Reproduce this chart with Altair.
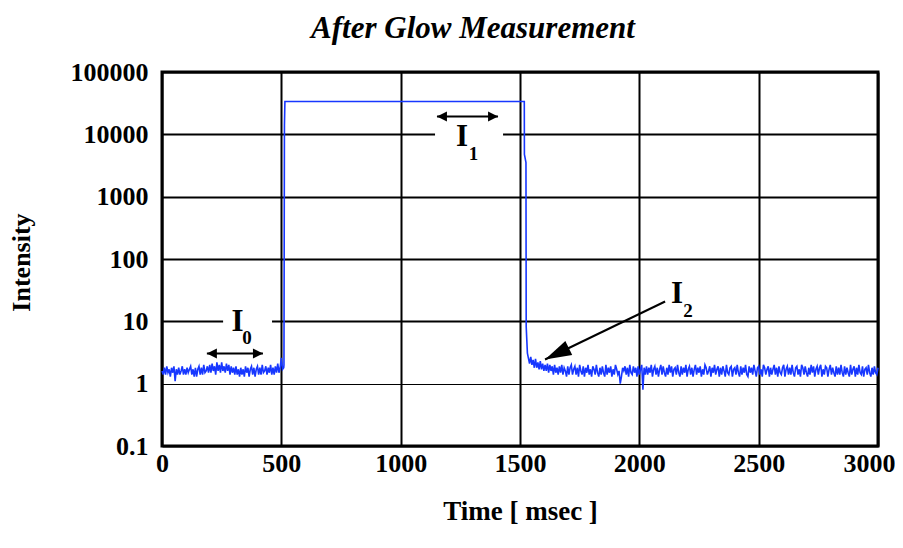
import altair as alt
import pandas as pd

# ---- data ----
# baseline before the pulse, sampled every 5 ms from 0 to 505 ms
pre_values = [
    1.6, 1.4, 1.8, 1.4, 1.9, 1.5, 1.7, 1.3, 1.8, 1.5, 1.9, 1.1, 1.7, 1.4, 1.8, 1.4, 1.6, 1.9, 1.4, 1.7,
    1.4, 1.8, 1.5, 1.7, 1.9, 1.4, 1.7, 1.3, 1.8, 1.3, 1.7, 1.9, 1.4, 1.8, 1.4, 2.0, 1.5, 1.6, 1.9, 1.5,
    2.0, 1.5, 2.1, 1.6, 1.9, 1.4, 2.2, 1.6, 2.0, 1.5, 2.2, 1.6, 1.9, 1.5, 2.1, 1.6, 2.0, 1.4, 1.9, 1.5,
    1.8, 1.4, 1.9, 1.4, 1.7, 1.3, 1.8, 1.4, 1.7, 1.3, 1.9, 1.5, 1.8, 1.3, 1.7, 1.9, 1.4, 1.8, 1.3, 1.7,
    1.9, 1.4, 1.8, 1.4, 2.0, 1.5, 1.6, 1.9, 1.4, 1.8, 1.5, 2.0, 1.4, 1.8, 1.4, 1.9, 1.5, 2.1, 1.5, 1.8,
    2.6, 1.7,
]
pre_times = list(range(0, 510, 5))

# the pulse edges and the plateau
edge_times = [510, 511, 513, 515, 1518, 1518.5, 1525, 1526, 1531]
edge_values = [1.8, 2.0, 14000, 33600, 33600, 4750, 3530, 8.2, 3.1]

# after glow, sampled every 5 ms from 1535 to 3000 ms
post_values = [
    2.6, 2.1, 2.7, 2.0, 2.4, 1.8, 2.5, 1.8, 2.2, 1.7, 2.3, 1.7, 2.1, 1.6, 2.0, 1.6, 2.1, 1.5, 2.0, 1.6,
    1.9, 1.4, 2.0, 1.5, 1.8, 1.4, 1.9, 1.5, 2.0, 1.4, 1.8, 1.6, 1.3, 1.9, 1.4, 1.8, 2.0, 1.4, 1.7, 1.9,
    1.4, 1.8, 1.3, 2.0, 1.6, 1.4, 1.9, 1.3, 1.8, 1.5, 2.0, 1.4, 1.7, 1.3, 1.9, 1.7, 1.4, 2.0, 1.5, 1.3,
    1.8, 1.4, 1.9, 1.5, 1.3, 2.0, 1.4, 1.8, 1.5, 1.9, 1.3, 1.7, 1.4, 2.0, 1.7, 1.4, 1.6, 1.0, 1.3, 1.8,
    1.6, 1.9, 1.4, 1.8, 1.3, 2.0, 1.5, 1.4, 1.9, 1.5, 1.8, 1.3, 1.9, 1.4, 1.7, 2.0, 0.8, 1.8, 1.4, 1.9,
    1.4, 1.8, 1.5, 2.0, 1.3, 1.7, 1.9, 1.4, 1.8, 1.3, 1.7, 2.0, 1.4, 1.9, 1.5, 1.3, 1.8, 1.4, 2.0, 1.5,
    1.9, 1.3, 1.7, 1.8, 1.4, 2.0, 1.5, 1.3, 1.9, 1.4, 1.8, 1.5, 2.0, 1.3, 1.7, 1.9, 1.4, 1.8, 1.3, 1.7,
    2.0, 1.4, 1.8, 1.5, 1.9, 1.3, 1.7, 1.4, 2.0, 1.8, 1.4, 1.6, 1.9, 1.3, 1.8, 1.5, 2.0, 1.4, 1.7, 1.9,
    1.3, 1.8, 1.4, 1.9, 1.6, 1.3, 2.0, 1.5, 1.4, 1.8, 1.9, 1.3, 1.7, 1.8, 1.4, 2.0, 1.5, 1.3, 1.9, 1.4,
    1.8, 1.5, 2.0, 1.4, 1.3, 1.9, 1.5, 1.8, 1.4, 2.0, 1.6, 1.3, 1.8, 1.9, 1.4, 1.7, 1.3, 2.0, 1.8, 1.4,
    1.7, 1.9, 1.3, 1.8, 1.4, 1.7, 2.0, 1.4, 1.8, 1.3, 1.9, 1.5, 1.4, 1.8, 2.0, 1.3, 1.7, 1.9, 1.4, 1.8,
    1.4, 2.0, 1.5, 1.3, 1.8, 1.9, 1.4, 1.7, 1.3, 2.0, 1.8, 1.4, 1.9, 1.5, 1.3, 1.8, 1.4, 2.0, 1.5, 1.9,
    1.3, 1.7, 1.9, 1.4, 1.8, 2.0, 1.3, 1.7, 1.4, 1.9, 1.8, 1.3, 1.7, 2.0, 1.4, 1.8, 1.5, 1.3, 1.9, 1.4,
    1.8, 1.4, 2.0, 1.5, 1.3, 1.9, 1.4, 1.8, 1.5, 1.3, 2.0, 1.4, 1.7, 1.9, 1.3, 1.8, 1.4, 2.0, 1.5, 1.4,
    1.9, 1.3, 1.7, 1.8, 1.4, 2.0, 1.5, 1.3, 1.8, 1.4, 1.9, 1.5, 1.4, 1.8,
]
post_times = list(range(1535, 3001, 5))

x_ticks = [0, 500, 1000, 1500, 2000, 2500, 3000]
y_ticks = [0.1, 1, 10, 100, 1000, 10000, 100000]

chart_title = ["After Glow Measurement"]

# annotation labels (in data units)
label_text = ["I", "0", "I", "1", "I", "2"]
label_x = [316, 356, 1257, 1305, 2158, 2204]
label_y = [6.87, 4.25, 6380, 3945, 20.0, 11.9]
label_size = [31, 19, 31, 19, 31, 19]

# white gaps in the grid behind I0 and I1
gap_x = [256, 1144]
gap_x2 = [461, 1429]
gap_y = [10, 10000]

# arrows: segments and heads
seg_x = [188, 1152, 2108]
seg_x2 = [423, 1408, 1605]
seg_y = [3.05, 19320, 20.8]
seg_y2 = [3.05, 19320, 2.44]

head_x = [188, 423, 1152, 1408]
head_y = [3.05, 3.05, 19320, 19320]
head_angle = [180, 0, 180, 0]

long_head_x = [1605]
long_head_y = [2.44]
long_head_angle = [154]

df = pd.DataFrame({
    "t": pre_times + edge_times + post_times,
    "v": pre_values + edge_values + post_values,
})
labels = pd.DataFrame({"text": label_text, "x": label_x, "y": label_y, "size": label_size})
gaps = pd.DataFrame({"x": gap_x, "x2": gap_x2, "y": gap_y})
segs = pd.DataFrame({"x": seg_x, "x2": seg_x2, "y": seg_y, "y2": seg_y2})
heads = pd.DataFrame({"x": head_x, "y": head_y, "a": head_angle})
long_heads = pd.DataFrame({"x": long_head_x, "y": long_head_y, "a": long_head_angle})
titles = pd.DataFrame({"text": chart_title})

FONT = "Liberation Serif"
xscale = alt.Scale(domain=[0, 3000], nice=False, zero=False)
yscale = alt.Scale(type="log", domain=[0.1, 100000], nice=False)

x_axis = alt.Axis(
    values=x_ticks, format="d", title="Time [ msec ]",
    grid=True, gridColor="black", gridWidth=2, gridOpacity=1,
    ticks=False, tickSize=0, domain=False,
    labelFont=FONT, labelFontWeight="bold", labelFontSize=26, labelColor="black",
    labelPadding=4, labelBaseline="top", labelFlush=False, labelOverlap=False,
    labelOffset={"condition": {"test": "datum.value === 3000", "value": -9}, "value": 0},
    titleFont=FONT, titleFontWeight="bold", titleFontSize=27, titleColor="black",
    titleBaseline="alphabetic", titleX=358, titleY=73, titleAnchor="middle",
)
y_axis = alt.Axis(
    values=y_ticks, format="~g", title="Intensity",
    grid=True, gridColor="black", gridOpacity=1,
    gridWidth={"condition": {"test": "datum.value === 1", "value": 1}, "value": 2},
    ticks=False, tickSize=0, domain=False,
    labelFont=FONT, labelFontWeight="bold", labelFontSize=26, labelColor="black",
    labelPadding=14, labelFlush=False, labelOverlap=False,
    titleFont=FONT, titleFontWeight="bold", titleFontSize=26, titleColor="black",
    titleAngle=270, titleAlign="center", titleBaseline="alphabetic",
    titleX=-133, titleY=190,
)

line = alt.Chart(df).mark_line(color="#1737ff", strokeWidth=1.6).encode(
    x=alt.X("t:Q", scale=xscale, axis=x_axis),
    y=alt.Y("v:Q", scale=yscale, axis=y_axis),
)

gap_layer = alt.Chart(gaps).mark_rule(color="white", strokeWidth=5).encode(
    x=alt.X("x:Q", scale=xscale), x2="x2:Q",
    y=alt.Y("y:Q", scale=yscale),
)

seg_layer = alt.Chart(segs).mark_rule(color="black", strokeWidth=2).encode(
    x=alt.X("x:Q", scale=xscale), x2="x2:Q",
    y=alt.Y("y:Q", scale=yscale), y2="y2:Q",
)

head_layer = alt.Chart(heads).mark_point(
    shape="M0,0L-1,-0.5L-1,0.5Z", filled=True, color="black", opacity=1, size=400,
).encode(
    x=alt.X("x:Q", scale=xscale), y=alt.Y("y:Q", scale=yscale),
    angle=alt.Angle("a:Q", scale=None),
)

long_head_layer = alt.Chart(long_heads).mark_point(
    shape="M0,0L-2.2,-0.65L-2.2,0.65Z", filled=True, color="black", opacity=1, size=576,
).encode(
    x=alt.X("x:Q", scale=xscale), y=alt.Y("y:Q", scale=yscale),
    angle=alt.Angle("a:Q", scale=None),
)

text_layer = alt.Chart(labels).mark_text(
    font=FONT, fontWeight="bold", color="black", align="center", baseline="alphabetic",
).encode(
    x=alt.X("x:Q", scale=xscale), y=alt.Y("y:Q", scale=yscale),
    text="text:N",
    size=alt.Size("size:Q", scale=None),
)

title_layer = alt.Chart(titles).mark_text(
    font=FONT, fontWeight="bold", fontStyle="italic", fontSize=31, color="black",
    align="center", baseline="alphabetic",
).encode(
    x=alt.value(311), y=alt.value(-34), text="text:N",
)

chart = alt.layer(
    gap_layer, line, seg_layer, head_layer, long_head_layer, text_layer, title_layer
).properties(
    width=716, height=374,
    autosize=alt.AutoSizeParams(type="none"),
    padding={"left": 154, "top": 64, "right": 17, "bottom": 94},
).configure_view(stroke="black", strokeWidth=3)

chart.save("out.html", embed_options={"renderer": "svg", "actions": False})
